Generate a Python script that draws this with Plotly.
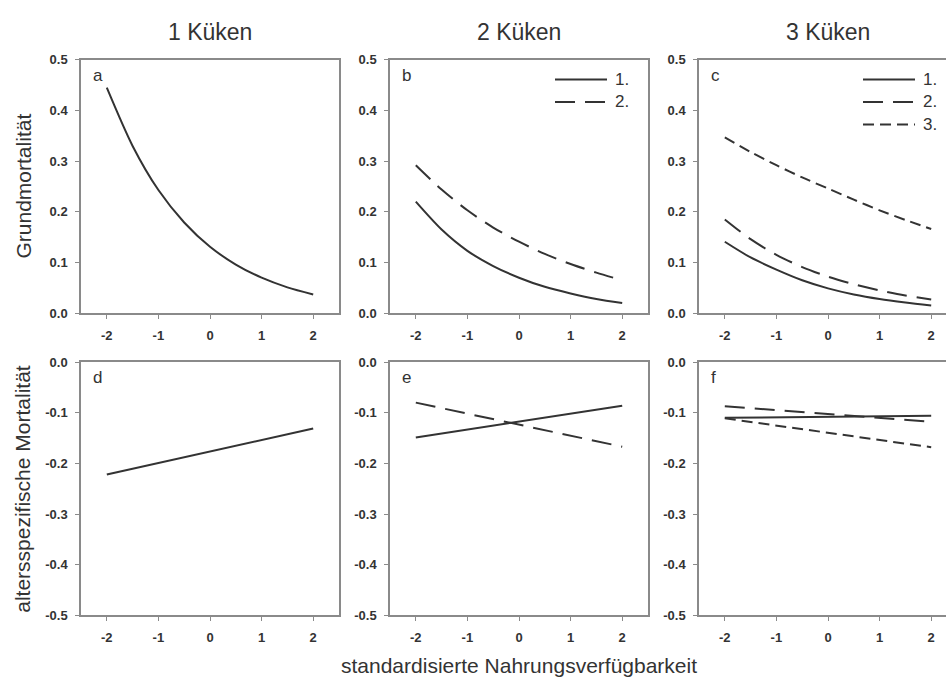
import plotly.graph_objects as go

# Standardised food availability (x) for the curved and linear panels
x_food = [-2, -1.5, -1, -0.5, 0, 0.5, 1, 1.5, 2]
x_lin = [-2, 0, 2]

# Baseline mortality (top row)
a_base = [0.445, 0.330, 0.243, 0.179, 0.131, 0.096, 0.070, 0.051, 0.037]
b_base_1 = [0.220, 0.165, 0.123, 0.093, 0.070, 0.052, 0.039, 0.028, 0.020]
b_base_2 = [0.292, 0.244, 0.203, 0.169, 0.141, 0.117, 0.097, 0.080, 0.065]
c_base_1 = [0.141, 0.110, 0.086, 0.065, 0.049, 0.037, 0.028, 0.021, 0.015]
c_base_2 = [0.185, 0.146, 0.115, 0.091, 0.072, 0.057, 0.045, 0.035, 0.027]
c_base_3 = [0.347, 0.318, 0.292, 0.268, 0.246, 0.224, 0.203, 0.184, 0.166]

# Age-specific mortality (bottom row)
d_age = [-0.222, -0.177, -0.131]
e_age_1 = [-0.149, -0.118, -0.086]
e_age_2 = [-0.080, -0.1235, -0.167]
f_age_1 = [-0.110, -0.108, -0.106]
f_age_2 = [-0.087, -0.1025, -0.118]
f_age_3 = [-0.111, -0.1395, -0.168]

column_titles = ["1 Küken", "2 Küken", "3 Küken"]
panel_letters = ["a", "b", "c", "d", "e", "f"]
chick_order = ["1.", "2.", "3."]
x_tick_vals = [-2, -1, 0, 1, 2]
x_tick_text = ["-2", "-1", "0", "1", "2"]
top_tick_vals = [0.0, 0.1, 0.2, 0.3, 0.4, 0.5]
top_tick_text = ["0.0", "0.1", "0.2", "0.3", "0.4", "0.5"]
bot_tick_vals = [0.0, -0.1, -0.2, -0.3, -0.4, -0.5]
bot_tick_text = ["0.0", "-0.1", "-0.2", "-0.3", "-0.4", "-0.5"]

W, H = 946, 688
LINE = "#333333"
AXIS = "#8a8a8a"
TEXT = "#333333"
FONT = "Liberation Sans, Arial, sans-serif"
DASHES = ["solid", "20px,10px", "11px,6px"]

# panel boxes in pixels: (left, right) per column, (top, bottom) per row
cols_px = [(81, 339), (390, 648), (699, 946)]
rows_px = [(54, 313), (363, 622)]
PANEL_W = 258
PANEL_H = 259
unit_px = PANEL_W / 5.0

fig = go.Figure()

top_series = [[a_base], [b_base_1, b_base_2], [c_base_1, c_base_2, c_base_3]]
bot_series = [[d_age], [e_age_1, e_age_2], [f_age_1, f_age_2, f_age_3]]

for r, (series_row, xs, shape) in enumerate([(top_series, x_food, "spline"),
                                              (bot_series, x_lin, "linear")]):
    for c, group in enumerate(series_row):
        idx = r * 3 + c + 1
        sfx = "" if idx == 1 else str(idx)
        for k, ys in enumerate(group):
            fig.add_trace(go.Scatter(
                x=xs, y=ys, mode="lines", xaxis="x" + sfx, yaxis="y" + sfx,
                line=dict(color=LINE, width=2, dash=DASHES[k], shape=shape,
                          smoothing=0.8),
                showlegend=False, hoverinfo="skip"))

axes = {}
for r in range(2):
    for c in range(3):
        idx = r * 3 + c + 1
        sfx = "" if idx == 1 else str(idx)
        l, rr = cols_px[c]
        t, b = rows_px[r]
        width_units = (rr - l) / unit_px
        xrange = [-2.5, -2.5 + width_units]
        common = dict(showgrid=False, zeroline=False, showline=True,
                      linecolor=AXIS, linewidth=1.5, ticks="outside",
                      ticklen=4, tickwidth=1, tickcolor=AXIS,
                      tickfont=dict(family=FONT, size=13, color=TEXT, weight="bold"),
                      fixedrange=True)
        axes["xaxis" + sfx] = dict(
            common, domain=[l / W, rr / W], range=xrange,
            anchor="y" + sfx, tickvals=x_tick_vals, ticktext=x_tick_text,
            mirror=True, ticklabelstandoff=5)
        yr = [0, 0.5] if r == 0 else [-0.5, 0]
        axes["yaxis" + sfx] = dict(
            common, domain=[1 - b / H, 1 - t / H], range=yr,
            anchor="x" + sfx,
            tickvals=top_tick_vals if r == 0 else bot_tick_vals,
            ticktext=top_tick_text if r == 0 else bot_tick_text,
            mirror=(c != 2), ticklabelstandoff=5)

annotations = []
shapes = []

# column headings
for c, title in enumerate(column_titles):
    cx = cols_px[c][0] + PANEL_W / 2
    annotations.append(dict(text=title, x=cx / W, y=1 - 26 / H, xref="paper",
                            yref="paper", showarrow=False, xanchor="center",
                            yanchor="middle",
                            font=dict(family=FONT, size=23, color=TEXT)))

# panel letters
for i, letter in enumerate(panel_letters):
    sfx = "" if i == 0 else str(i + 1)
    l, rr = cols_px[i % 3]
    annotations.append(dict(text=letter, x=10 / (rr - l), y=1 - 16 / PANEL_H,
                            xref="x" + sfx + " domain", yref="y" + sfx + " domain",
                            showarrow=False, xanchor="left", yanchor="middle",
                            font=dict(family=FONT, size=17, color=TEXT)))

# line-style keys for panels b and c
for c, n, key_left in [(1, 2, 555), (2, 3, 863)]:
    sfx = str(c + 1)
    l, rr = cols_px[c]
    w = rr - l
    x0 = (key_left - l) / w
    x1 = x0 + 52 / w
    for k in range(n):
        yy = 1 - (20 + 23 * k) / PANEL_H
        shapes.append(dict(type="line", xref="x" + sfx + " domain",
                           yref="y" + sfx + " domain", x0=x0, x1=x1, y0=yy, y1=yy,
                           line=dict(color=LINE, width=2, dash=DASHES[k])))
        annotations.append(dict(text=chick_order[k], x=x1 + 6 / w, y=yy,
                                xref="x" + sfx + " domain",
                                yref="y" + sfx + " domain", showarrow=False,
                                xanchor="left", yanchor="middle",
                                font=dict(family=FONT, size=17, color=TEXT)))

# axis titles
annotations.append(dict(text="Grundmortalität", x=23 / W, y=1 - 183.5 / H,
                        xref="paper", yref="paper", showarrow=False, textangle=-90,
                        xanchor="center", yanchor="middle",
                        font=dict(family=FONT, size=21, color=TEXT)))
annotations.append(dict(text="altersspezifische Mortalität", x=23 / W,
                        y=1 - 492.5 / H, xref="paper", yref="paper",
                        showarrow=False, textangle=-90, xanchor="center",
                        yanchor="middle",
                        font=dict(family=FONT, size=21, color=TEXT)))
annotations.append(dict(text="standardisierte Nahrungsverfügbarkeit",
                        x=519 / W, y=1 - 673 / H, xref="paper", yref="paper",
                        showarrow=False, xanchor="center", yanchor="middle",
                        font=dict(family=FONT, size=21, color=TEXT)))

fig.update_layout(width=W, height=H, margin=dict(l=0, r=0, t=0, b=0),
                  paper_bgcolor="white", plot_bgcolor="white",
                  annotations=annotations, shapes=shapes, **axes)

fig.write_html("out.html", config={"displayModeBar": False})
